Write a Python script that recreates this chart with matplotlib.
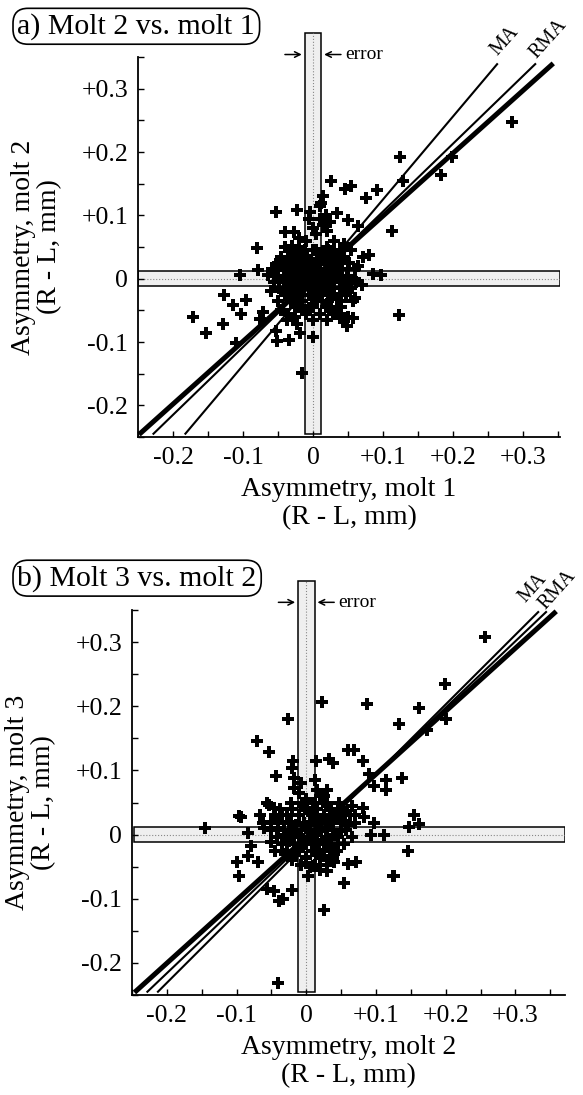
#asymmetry molt vs molt, two panels with MA / RMA lines and error bands

from matplotlib import pyplot as plt
from matplotlib.patches import Rectangle
import numpy as np

plt.rcParams['font.family'] = ['Liberation Serif', 'DejaVu Serif']

# panel a: molt 2 vs molt 1 (R - L, mm)
a_x = [0.284, 0.124, 0.129, 0.199, 0.183, 0.113, 0.123, 0.026, 0.046, 0.054,
       0.076, 0.091, 0.014, -0.053, -0.023, -0.004, 0.010, 0.034, 0.050, 0.064,
       -0.040, -0.027, -0.080, -0.030, 0.071, 0.080, 0.086, 0.097, -0.104, -0.079,
       -0.064, -0.053, -0.127, -0.114, -0.096, -0.103, -0.171, -0.153, -0.129, -0.071,
       -0.076, -0.110, -0.053, -0.051, -0.034, -0.019, 0.000, -0.016, 0.049, 0.057,
       0.039, 0.029, 0.057, -0.037, -0.023,
       -0.045, -0.040, -0.040, -0.035, -0.035, -0.030, -0.030, -0.030, -0.025, -0.025,
       -0.025, -0.020, -0.020, -0.020, -0.020, -0.015, -0.015, -0.015, -0.010, -0.010,
       -0.010, -0.010, -0.005, -0.005, -0.005, 0.000, 0.000, 0.000, 0.000, 0.005,
       0.005, 0.005, 0.005, 0.010, 0.010, 0.010, 0.010, 0.015, 0.015, 0.015,
       0.015, 0.020, 0.020, 0.020, 0.025, 0.025, 0.025, 0.030, 0.030, 0.030,
       0.035, 0.035, 0.040, 0.040, 0.040, 0.045, 0.050, 0.050, -0.050, -0.055,
       -0.060, 0.055, 0.060, -0.035, 0.030, -0.020, 0.010, 0.020, -0.040, 0.045,
       0.060, 0.050, 0.045, 0.040, -0.025, 0.000, 0.020, -0.045, 0.065, 0.070,
       0.012, 0.018, 0.000, 0.025, -0.005,
       -0.030, -0.012, 0.005, 0.022, 0.038,
       -0.045, -0.025, -0.008, 0.012, 0.028, 0.045,
       -0.050, -0.035, -0.018, 0.000, 0.018, 0.035, 0.052,
       -0.058, -0.042, -0.027, -0.010, 0.008, 0.025, 0.042, 0.060,
       -0.050, -0.032, -0.018, -0.002, 0.015, 0.032, 0.048,
       -0.055, -0.040, -0.022, -0.008, 0.010, 0.027, 0.044, 0.062,
       -0.048, -0.030, -0.015, 0.003, 0.020, 0.038, 0.055,
       -0.040, -0.022, -0.005, 0.013, 0.030, 0.047,
       -0.032, -0.015, 0.005, 0.022, 0.040,
       -0.020, 0.000, 0.018, 0.035,
       -0.010, 0.010, 0.028]
a_y = [0.248, 0.192, 0.154, 0.192, 0.163, 0.075, -0.058, 0.154, 0.142, 0.146,
       0.128, 0.140, 0.131, 0.106, 0.108, 0.106, 0.115, 0.103, 0.092, 0.083,
       0.074, 0.074, 0.049, 0.052, 0.034, 0.037, 0.008, 0.006, 0.006, 0.014,
       0.006, 0.023, -0.025, -0.042, -0.034, -0.055, -0.060, -0.086, -0.071, -0.052,
       -0.063, -0.102, -0.082, -0.098, -0.097, -0.086, -0.092, -0.149, -0.074, -0.062,
       -0.062, -0.051, -0.035, -0.066, -0.071,
       0.020, 0.000, -0.020, 0.030, -0.010, 0.010, -0.030, 0.040, -0.005, 0.020,
       -0.045, 0.000, 0.030, -0.020, 0.050, 0.010, -0.035, 0.040, -0.010, 0.020,
       -0.050, 0.060, 0.000, 0.030, -0.025, 0.010, -0.015, 0.045, -0.040, 0.000,
       0.025, -0.030, 0.070, 0.010, -0.010, 0.040, -0.055, 0.000, 0.030, -0.020,
       0.085, 0.015, -0.040, 0.050, -0.005, 0.025, -0.025, 0.010, 0.040, -0.015,
       -0.030, 0.020, 0.000, -0.045, 0.030, -0.010, 0.015, -0.020, -0.035, 0.005,
       -0.020, 0.045, 0.000, -0.055, 0.060, 0.065, 0.095, 0.075, 0.050, 0.055,
       -0.030, -0.060, -0.065, -0.055, -0.060, -0.065, -0.065, -0.050, 0.020, -0.010,
       0.120, 0.100, 0.080, 0.090, 0.095,
       0.045, 0.045, 0.045, 0.045, 0.045,
       0.035, 0.035, 0.035, 0.035, 0.035, 0.035,
       0.025, 0.025, 0.025, 0.025, 0.025, 0.025, 0.025,
       0.015, 0.015, 0.015, 0.015, 0.015, 0.015, 0.015, 0.015,
       0.005, 0.005, 0.005, 0.005, 0.005, 0.005, 0.005,
       -0.005, -0.005, -0.005, -0.005, -0.005, -0.005, -0.005, -0.005,
       -0.015, -0.015, -0.015, -0.015, -0.015, -0.015, -0.015,
       -0.025, -0.025, -0.025, -0.025, -0.025, -0.025,
       -0.035, -0.035, -0.035, -0.035, -0.035,
       -0.045, -0.045, -0.045, -0.045,
       -0.055, -0.055, -0.055]

# panel b: molt 3 vs molt 2
b_x = [0.257, 0.199, 0.161, 0.133, 0.201, 0.173, 0.137, 0.154, 0.147, 0.161,
       0.146, 0.126, -0.146, 0.023, 0.087, -0.026, -0.071, -0.054, -0.043, -0.019,
       -0.021, -0.017, 0.014, 0.033, 0.038, 0.060, 0.068, 0.081, 0.090, 0.097,
       0.114, 0.114, -0.007, -0.017, 0.029, -0.057, -0.046, -0.067, -0.097, 0.081,
       0.083, 0.097, 0.093, 0.111, -0.100, -0.097, -0.083, -0.069, -0.057, -0.047,
       -0.034, -0.020, 0.026, 0.054, 0.060, 0.071, 0.124, 0.029, 0.003, 0.010,
       0.040, -0.039, -0.040, -0.054, -0.083, -0.079, -0.050, -0.093,
       -0.040, -0.035, -0.035, -0.030, -0.030, -0.025, -0.025, -0.020, -0.020, -0.020,
       -0.015, -0.015, -0.010, -0.010, -0.010, -0.005, -0.005, 0.000, 0.000, 0.000,
       0.005, 0.005, 0.005, 0.010, 0.010, 0.010, 0.015, 0.015, 0.015, 0.020,
       0.020, 0.020, 0.025, 0.025, 0.030, 0.030, 0.030, 0.035, 0.035, 0.040,
       0.040, 0.045, 0.045, 0.050, 0.050, 0.055, 0.060, 0.065, -0.045, -0.050,
       0.005, 0.015, -0.010, 0.025, 0.070, 0.040, -0.060, 0.000, 0.012, 0.020,
       -0.022, -0.005, 0.012, 0.030, 0.047,
       -0.038, -0.020, -0.002, 0.016, 0.034, 0.052,
       -0.045, -0.028, -0.010, 0.008, 0.026, 0.044, 0.062,
       -0.062, -0.040, -0.022, -0.004, 0.014, 0.032, 0.050, 0.070,
       -0.050, -0.032, -0.015, 0.003, 0.021, 0.039, 0.057,
       -0.042, -0.025, -0.008, 0.010, 0.028, 0.046, 0.066,
       -0.035, -0.018, 0.000, 0.018, 0.036, 0.054,
       -0.028, -0.010, 0.008, 0.026, 0.044,
       -0.020, 0.000, 0.020, 0.038,
       -0.008, 0.012, 0.030]
b_y = [0.308, 0.234, 0.197, 0.172, 0.180, 0.163, 0.088, 0.031, 0.012, 0.017,
       -0.026, -0.065, 0.011, 0.206, 0.203, 0.180, 0.146, 0.129, 0.092, 0.115,
       0.104, 0.089, 0.115, 0.118, 0.112, 0.132, 0.132, 0.115, 0.094, 0.075,
       0.085, 0.069, 0.080, 0.072, 0.069, 0.049, 0.042, 0.031, 0.029, 0.042,
       0.028, 0.018, 0.000, 0.000, -0.042, -0.065, -0.034, -0.043, -0.085, -0.088,
       -0.101, -0.086, -0.118, -0.075, -0.046, -0.042, -0.065, -0.057, -0.065, -0.049,
       -0.042, -0.103, -0.231, 0.046, 0.003, -0.018, -0.012, 0.028,
       0.010, -0.015, 0.030, 0.000, -0.030, 0.020, -0.010, 0.040, 0.005, -0.040,
       0.015, -0.025, 0.030, 0.000, -0.020, 0.045, -0.010, 0.010, -0.035, 0.055,
       0.020, -0.005, 0.035, 0.000, 0.050, -0.025, 0.015, -0.015, 0.040, 0.005,
       0.060, -0.030, 0.025, -0.010, 0.010, 0.045, -0.040, 0.020, -0.020, 0.030,
       0.000, 0.040, -0.015, 0.025, 0.005, 0.035, 0.015, 0.045, -0.025, 0.020,
       -0.050, 0.070, 0.065, 0.060, 0.030, -0.030, 0.010, -0.045, 0.085, -0.055,
       0.050, 0.050, 0.050, 0.050, 0.050,
       0.040, 0.040, 0.040, 0.040, 0.040, 0.040,
       0.030, 0.030, 0.030, 0.030, 0.030, 0.030, 0.030,
       0.018, 0.018, 0.018, 0.018, 0.018, 0.018, 0.018, 0.018,
       0.007, 0.007, 0.007, 0.007, 0.007, 0.007, 0.007,
       -0.004, -0.004, -0.004, -0.004, -0.004, -0.004, -0.004,
       -0.015, -0.015, -0.015, -0.015, -0.015, -0.015,
       -0.026, -0.026, -0.026, -0.026, -0.026,
       -0.037, -0.037, -0.037, -0.037,
       -0.048, -0.048, -0.048]

# fitted lines: slope, intercept  (thick, RMA, MA)
a_lines = {'thick': (0.99, 0.0), 'RMA': (1.07, -0.001), 'MA': (1.31, -0.006)}
b_lines = {'thick': (0.982, -0.004), 'RMA': (1.035, -0.009), 'MA': (1.085, -0.014)}

ticks = [-0.2, -0.1, 0, 0.1, 0.2, 0.3]
tick_labels = ['-0.2', '-0.1', '0', '+0.1', '+0.2', '+0.3']
err = 0.012

fig = plt.figure(figsize=(5.83, 10.95), dpi=100)
ax_a = fig.add_axes([0.2367, 0.6009, 0.7238, 0.347])
ax_b = fig.add_axes([0.2264, 0.0913, 0.7427, 0.3516])

panels = [
    (ax_a, a_x, a_y, a_lines, (-0.25, 0.353), (-0.246, 0.338),
     'Asymmetry, molt 1', 'Asymmetry, molt 2',
     {'MA': (0.274, 0.375), 'RMA': (0.336, 0.378)}),
    (ax_b, b_x, b_y, b_lines, (-0.247, 0.371), (-0.246, 0.346),
     'Asymmetry, molt 2', 'Asymmetry, molt 3',
     {'MA': (0.325, 0.384), 'RMA': (0.360, 0.381)}),
]

for ax, xs, ys, lines, xl, yl, xlab, ylab, lab_pos in panels:
    ax.set_xlim(xl)
    ax.set_ylim(yl)
    for s in ['top', 'right']:
        ax.spines[s].set_visible(False)
    ax.spines['left'].set_linewidth(1.3)
    ax.spines['bottom'].set_linewidth(1.3)

    # error bands
    ax.add_patch(Rectangle((-err, yl[0]), 2 * err, yl[1] - yl[0] + 0.05,
                           facecolor='#efefef', edgecolor='black', lw=1.1,
                           clip_on=False, zorder=1))
    ax.plot([0, 0], [yl[0], yl[1] + 0.05], color='#888888', lw=0.8, ls=':',
            clip_on=False, zorder=1.1)
    ax.add_patch(Rectangle((xl[0], -err), xl[1] - xl[0], 2 * err,
                           facecolor='#efefef', edgecolor='black', lw=1.1,
                           zorder=1))
    ax.plot(xl, [0, 0], color='#888888', lw=0.8, ls=':', zorder=1.1)

    # fitted lines, from bottom edge to top
    for name, (b, c) in lines.items():
        y0, y1 = yl[0], yl[1] + 0.002
        x0, x1 = (y0 - c) / b, (y1 - c) / b
        ax.plot([x0, x1], [y0, y1], color='black',
                lw=3.6 if name == 'thick' else 1.5, solid_capstyle='butt',
                clip_on=False, zorder=3)

    ax.plot(xs, ys, ls='none', marker='P', color='black', markersize=8,
            markeredgewidth=0, zorder=4)

    ax.set_xticks(ticks)
    ax.set_xticklabels(tick_labels)
    ax.set_yticks(ticks)
    ax.set_yticklabels(tick_labels)
    ax.set_xticks(np.arange(-0.25, 0.36, 0.05), minor=True)
    ax.set_yticks(np.arange(-0.25, 0.36, 0.05), minor=True)
    ax.tick_params(which='both', direction='in', length=4, width=1,
                   labelsize=18.5, pad=7)

    ax.set_xlabel(xlab + '\n(R - L, mm)', fontsize=20, linespacing=1.15,
                  labelpad=6)
    ax.set_ylabel(ylab + '\n(R - L, mm)', fontsize=20, linespacing=1.05,
                  labelpad=14)

    # error arrows
    ya = yl[1] + 0.016
    ax.annotate('', xy=(-err, ya), xytext=(-err - 0.032, ya),
                arrowprops=dict(arrowstyle='->', lw=1.1, color='black'),
                annotation_clip=False)
    ax.annotate('', xy=(err, ya), xytext=(err + 0.032, ya),
                arrowprops=dict(arrowstyle='->', lw=1.1, color='black'),
                annotation_clip=False)
    ax.text(err + 0.034, ya, 'error', fontsize=14, va='center', ha='left')

    # MA / RMA labels
    for name, (xt, yt) in lab_pos.items():
        ax.text(xt, yt, name, fontsize=14.5, rotation=48, ha='center',
                va='center', clip_on=False)

fig.text(0.03, 0.976, 'a) Molt 2 vs. molt 1', fontsize=21.5, va='center',
         ha='left', bbox=dict(boxstyle='round,pad=0.15,rounding_size=0.5',
                              fc='white', ec='black', lw=1.2))
fig.text(0.03, 0.472, 'b) Molt 3 vs. molt 2', fontsize=21.5, va='center',
         ha='left', bbox=dict(boxstyle='round,pad=0.15,rounding_size=0.5',
                              fc='white', ec='black', lw=1.2))

fig.savefig('out.png', dpi=100)
